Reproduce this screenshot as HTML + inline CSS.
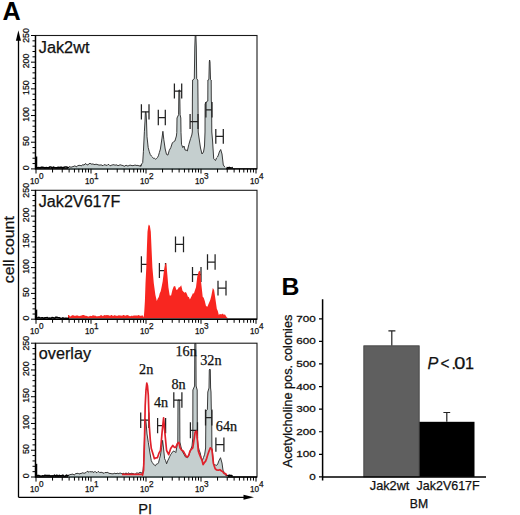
<!DOCTYPE html><html><head><meta charset="utf-8"><style>html,body{margin:0;padding:0;background:#fff;}svg{display:block;}text{font-family:"Liberation Sans",sans-serif;stroke:#111;stroke-width:0.25px;}</style></head><body>
<svg width="520" height="515" viewBox="0 0 520 515">
<rect x="0" y="0" width="520" height="515" fill="#fff"/>
<text x="2.4" y="19.6" font-size="25.2" font-weight="bold" fill="#000" style="stroke:none">A</text>
<polygon points="68,168 68,168.11 69,166.78 70,166.73 71,167.36 72,166.8 73,166.69 74,166.18 75,165.78 76,166.73 77,166.67 78,165.22 79,165.71 80,165.02 81,166.08 82,165.21 83,164.58 84,165.18 85,163.85 86,163.73 87,164.94 88,164.76 89,163.87 90,163.17 91,164 92,164.2 93,163.8 94,164.59 95,164.45 96,164.26 97,164.33 98,164.86 99,164.98 100,165.11 101,164.84 102,165.23 103,165.77 104,164.58 105,165.04 106,164.92 107,165.67 108,164.39 109,164.62 110,165.81 111,165.49 112,164.88 113,164.91 114,164.57 115,165.4 116,164.78 117,165.07 118,165.69 119,165.27 120,164.83 121,164.92 122,165.5 123,165.39 124,166.31 125,166.01 126,165.11 127,165.71 128,166.08 129,165.46 130,165.2 131,165.22 132,165.69 133,165.57 134,165.44 135,164.99 136,165.35 137,165.5 138,165.3 139,165.98 140,165.9 141,164.79 140.7,166.5 141.7,163.95 142.7,162.6 143.4,151.7 144.4,131.3 145,121 145.4,112 146,112 146.5,121 147,136.7 148.2,147.6 149.2,151.34 150.2,154.4 151.33,156.01 152.47,157.1 153.6,158.5 154.6,158.34 155.6,159.2 156.53,158.59 157.47,157.49 158.4,155.8 159.4,152.42 160.4,149 162,138.1 162.9,131.3 163.8,139.5 165.2,149 166.5,154.4 167.9,155.1 169.3,150.3 170.8,147.6 172.4,142.7 173.65,141.86 174.9,141 176.4,136 176.8,132.4 177,118 178.6,114.7 178.9,90 179.7,90 180.1,114.7 180.8,118 181,132.4 181.5,144.3 182.8,147.6 184,146 185.1,150.1 186.2,150.07 187.3,151 188.9,144.3 190.6,138.5 191.8,135 192.3,132 192.4,100 192.6,80 194.3,78.8 194.8,47 195.2,35.5 195.9,35.5 196.3,47 196.7,78.8 197.8,80 198,100 198.2,132 198.9,137 200.5,148 202,154 203.5,152 204.5,146 205,132 205.1,104 206,102.11 206.9,101.77 207.8,101 207.9,80 208.9,79.5 209.3,62 209.6,60 210,62 210.5,79.5 211.2,80 211.3,101 211.6,104 211.8,132 212.5,140 213.7,158.7 214.6,159.75 215.5,160.5 216.5,157.97 217.5,157 218.4,155.03 219.3,152 220.7,149.5 222,154 223.3,165 225,167.3 226,168" fill="#c5cfcf"/>
<polyline points="68,168.11 69,166.78 70,166.73 71,167.36 72,166.8 73,166.69 74,166.18 75,165.78 76,166.73 77,166.67 78,165.22 79,165.71 80,165.02 81,166.08 82,165.21 83,164.58 84,165.18 85,163.85 86,163.73 87,164.94 88,164.76 89,163.87 90,163.17 91,164 92,164.2 93,163.8 94,164.59 95,164.45 96,164.26 97,164.33 98,164.86 99,164.98 100,165.11 101,164.84 102,165.23 103,165.77 104,164.58 105,165.04 106,164.92 107,165.67 108,164.39 109,164.62 110,165.81 111,165.49 112,164.88 113,164.91 114,164.57 115,165.4 116,164.78 117,165.07 118,165.69 119,165.27 120,164.83 121,164.92 122,165.5 123,165.39 124,166.31 125,166.01 126,165.11 127,165.71 128,166.08 129,165.46 130,165.2 131,165.22 132,165.69 133,165.57 134,165.44 135,164.99 136,165.35 137,165.5 138,165.3 139,165.98 140,165.9 141,164.79 140.7,166.5 141.7,163.95 142.7,162.6 143.4,151.7 144.4,131.3 145,121 145.4,112 146,112 146.5,121 147,136.7 148.2,147.6 149.2,151.34 150.2,154.4 151.33,156.01 152.47,157.1 153.6,158.5 154.6,158.34 155.6,159.2 156.53,158.59 157.47,157.49 158.4,155.8 159.4,152.42 160.4,149 162,138.1 162.9,131.3 163.8,139.5 165.2,149 166.5,154.4 167.9,155.1 169.3,150.3 170.8,147.6 172.4,142.7 173.65,141.86 174.9,141 176.4,136 176.8,132.4 177,118 178.6,114.7 178.9,90 179.7,90 180.1,114.7 180.8,118 181,132.4 181.5,144.3 182.8,147.6 184,146 185.1,150.1 186.2,150.07 187.3,151 188.9,144.3 190.6,138.5 191.8,135 192.3,132 192.4,100 192.6,80 194.3,78.8 194.8,47 195.2,35.5 195.9,35.5 196.3,47 196.7,78.8 197.8,80 198,100 198.2,132 198.9,137 200.5,148 202,154 203.5,152 204.5,146 205,132 205.1,104 206,102.11 206.9,101.77 207.8,101 207.9,80 208.9,79.5 209.3,62 209.6,60 210,62 210.5,79.5 211.2,80 211.3,101 211.6,104 211.8,132 212.5,140 213.7,158.7 214.6,159.75 215.5,160.5 216.5,157.97 217.5,157 218.4,155.03 219.3,152 220.7,149.5 222,154 223.3,165 225,167.3" fill="none" stroke="#262626" stroke-width="0.9"/>
<path d="M141.4 104.3V119.5M149 104.3V119.5M141.4 111.9H149M158.3 109.8V125.3M165.3 109.8V125.3M158.3 117.55H165.3M174.4 83.6V98.4M181.7 83.6V98.4M174.4 91H181.7M190.1 114V129M198 114V129M190.1 121.5H198M205.9 101.9V117.6M212 101.9V117.6M205.9 109.75H212M215.8 129V143.8M223.3 129V143.8M215.8 136.4H223.3" fill="none" stroke="#222" stroke-width="1.25"/>
<polyline points="36.5,167.51 37.7,167.69 38.9,167.51 40.1,167.95 41.3,167.22 42.5,167.21 43.7,167.42 44.9,168.01 46.1,167.58 47.3,167.81 48.5,167.9 49.7,167.06 50.9,167 52.1,168.15 53.3,167.17 54.5,167.48 55.7,167.74 56.9,167.86 58.1,167.39 59.3,167.65 60.5,167.38 61.7,167.41 62.9,168.04 64.1,167.28 65.3,167.02 66.5,167.04 67.7,167.46 68.9,168.15" fill="none" stroke="#000" stroke-width="1.6"/>
<polyline points="226.5,167.5 227.4,167.82 228.3,168.16 229.2,167.35 230.1,167.93 231,167.87 231.9,167.68 232.8,167.37" fill="none" stroke="#000" stroke-width="1.5"/>
<line x1="36.6" y1="168.9" x2="36.6" y2="156.5" stroke="#000" stroke-width="1.3"/>
<rect x="35.5" y="35.5" width="221.5" height="133.4" fill="none" stroke="#1a1a1a" stroke-width="1.1"/>
<path d="M35.5 35.5V168.9H257" fill="none" stroke="#000" stroke-width="1.4"/>
<line x1="68" y1="168.9" x2="226" y2="168.9" stroke="#667474" stroke-width="1.4"/>
<path d="M35.5 168.9H31M35.5 163.56H32.5M35.5 158.23H32.5M35.5 152.89H32.5M35.5 147.56H32.5M35.5 142.22H31M35.5 136.88H32.5M35.5 131.55H32.5M35.5 126.21H32.5M35.5 120.88H32.5M35.5 115.54H31M35.5 110.2H32.5M35.5 104.87H32.5M35.5 99.53H32.5M35.5 94.2H32.5M35.5 88.86H31M35.5 83.52H32.5M35.5 78.19H32.5M35.5 72.85H32.5M35.5 67.52H32.5M35.5 62.18H31M35.5 56.84H32.5M35.5 51.51H32.5M35.5 46.17H32.5M35.5 40.84H32.5M35.5 35.5H31" stroke="#000" stroke-width="1"/>
<text transform="translate(28.6 167.7) rotate(-90)" font-size="8.8" text-anchor="middle" fill="#111">0</text>
<text transform="translate(28.6 141.02) rotate(-90)" font-size="8.8" text-anchor="middle" fill="#111">50</text>
<text transform="translate(28.6 114.34) rotate(-90)" font-size="8.8" text-anchor="middle" fill="#111">100</text>
<text transform="translate(28.6 87.66) rotate(-90)" font-size="8.8" text-anchor="middle" fill="#111">150</text>
<text transform="translate(28.6 60.98) rotate(-90)" font-size="8.8" text-anchor="middle" fill="#111">200</text>
<text transform="translate(28.6 35.5) rotate(-90)" font-size="8.8" text-anchor="middle" fill="#111">250</text>
<path d="M36 168.9V173.5M52.56 168.9V172.5M62.24 168.9V172.5M69.11 168.9V172.5M74.44 168.9V172.5M78.8 168.9V172.5M82.48 168.9V172.5M85.67 168.9V172.5M88.48 168.9V172.5M91 168.9V173.5M107.56 168.9V172.5M117.24 168.9V172.5M124.11 168.9V172.5M129.44 168.9V172.5M133.8 168.9V172.5M137.48 168.9V172.5M140.67 168.9V172.5M143.48 168.9V172.5M146 168.9V173.5M162.56 168.9V172.5M172.24 168.9V172.5M179.11 168.9V172.5M184.44 168.9V172.5M188.8 168.9V172.5M192.48 168.9V172.5M195.67 168.9V172.5M198.48 168.9V172.5M201 168.9V173.5M217.56 168.9V172.5M227.24 168.9V172.5M234.11 168.9V172.5M239.44 168.9V172.5M243.8 168.9V172.5M247.48 168.9V172.5M250.67 168.9V172.5M253.48 168.9V172.5M256 168.9V173.5" stroke="#000" stroke-width="1"/>
<text x="30" y="183.5" font-size="8.2" fill="#111">10<tspan dy="-4.9">0</tspan></text>
<text x="85" y="183.5" font-size="8.2" fill="#111">10<tspan dy="-4.9">1</tspan></text>
<text x="140" y="183.5" font-size="8.2" fill="#111">10<tspan dy="-4.9">2</tspan></text>
<text x="195" y="183.5" font-size="8.2" fill="#111">10<tspan dy="-4.9">3</tspan></text>
<text x="250" y="183.5" font-size="8.2" fill="#111">10<tspan dy="-4.9">4</tspan></text>
<text x="38.8" y="52.6" font-size="16" textLength="50.6" lengthAdjust="spacingAndGlyphs" fill="#111">Jak2wt</text>
<path d="M141.4 256.2V272.6M149 256.2V272.6M141.4 264.4H149M159.4 263V278M165.5 263V278M159.4 270.5H165.5M175.5 236.4V252.2M183.5 236.4V252.2M175.5 244.3H183.5M192.5 267.1V282.1M201 267.1V282.1M192.5 274.6H201M207.5 254.3V269.8M215.1 254.3V269.8M207.5 262.05H215.1M218 280.7V295.6M226 280.7V295.6M218 288.15H226" fill="none" stroke="#222" stroke-width="1.25"/>
<polygon points="68,318.3 68,314.97 69,314.98 70,316.41 71,316.36 72,315.16 73,315.32 74,315.43 75,316.01 76,315.53 77,315.53 78,315.57 79,316.25 80,315.81 81,315.87 82,315.34 83,314.91 84,314.98 85,315.63 86,315.79 87,316.07 88,316.44 89,316.46 90,315.76 91,315.99 92,315.89 93,315.07 94,315.66 95,315.6 96,316.12 97,316.46 98,315.98 99,316.28 100,315.68 101,314.9 102,315.42 103,316.21 104,315.07 105,315.23 106,315.32 107,315.05 108,315.28 109,315.24 110,315.93 111,314.93 112,314.96 113,316.24 114,315.29 115,315.36 116,315.76 117,315.65 118,315.72 119,315.02 120,315.7 121,315.17 122,315.93 123,315.09 124,315.06 125,315.76 126,315.59 127,315.03 128,315.34 129,315.72 130,316.15 131,315.98 132,315.38 133,316.23 134,315.05 135,316.07 136,315.04 137,316 138,314.97 139,315.37 140,315.69 141,315.67 142,315.46 143,315.56 143.5,317.5 143.9,315.9 144.3,311 144.9,301 145.5,283.3 146.3,267.4 146.9,247.7 147.5,231.8 148.3,226 148.9,224.6 149.9,226 150.8,231.8 151.5,247.7 152.4,267.4 153.8,283.3 155.4,295.1 156.8,301 157.8,298.58 158.8,297 159.75,293.26 160.7,291.2 161.7,286.61 162.7,281.3 164.1,269.4 165.3,264 166.3,263.1 167.4,275.2 168.4,287.3 169.7,295.4 171.1,295.4 172.4,290 173.7,286.6 175.1,286 176.4,290 177.8,289.3 178.8,287.27 179.8,287.3 181.2,285.3 182.5,290.7 183.5,291.79 184.5,292.7 185.9,292 186.9,294.03 187.9,296.7 188.9,296.99 189.9,299.4 190.9,297.42 191.9,295.4 192.9,293.29 193.9,293.4 194.95,290.19 196,287.3 197.3,276.5 198.6,271.8 199.45,270.77 200.3,271.8 201.1,281.9 202.7,296.7 203.7,297.77 204.7,300.8 206,306.1 207.4,306.8 208.4,304.27 209.4,302.1 210.4,299.53 211.4,295.4 212.8,288 214.1,290 215.5,299.4 216.8,308.8 217.8,310.95 218.8,314.9 219.85,313.89 220.9,314.2 221.9,314.16 222.9,313.5 223.9,314.92 224.9,314.2 225.9,316.09 226.9,317.6 228.3,318.3 229,318.3" fill="#f82620"/>
<polyline points="36.5,317.96 37.7,317.83 38.9,317.39 40.1,317.94 41.3,317.89 42.5,317.8 43.7,318.28 44.9,317.89 46.1,317.74 47.3,317.55 48.5,318.39 49.7,318.14 50.9,318.39 52.1,317.53 53.3,317.67 54.5,318.45 55.7,317.32 56.9,317.34 58.1,317.72 59.3,317.76 60.5,318.31 61.7,318.48 62.9,317.87 64.1,318.43 65.3,318.27 66.5,318.21 67.7,318.46 68.9,317.94" fill="none" stroke="#000" stroke-width="1.6"/>
<line x1="36.6" y1="319.2" x2="36.6" y2="309.6" stroke="#000" stroke-width="1.3"/>
<rect x="35.5" y="190.3" width="221.5" height="128.9" fill="none" stroke="#1a1a1a" stroke-width="1.1"/>
<path d="M35.5 190.3V319.2H257" fill="none" stroke="#000" stroke-width="1.4"/>
<path d="M35.5 319.2H31M35.5 314.04H32.5M35.5 308.89H32.5M35.5 303.73H32.5M35.5 298.58H32.5M35.5 293.42H31M35.5 288.26H32.5M35.5 283.11H32.5M35.5 277.95H32.5M35.5 272.8H32.5M35.5 267.64H31M35.5 262.48H32.5M35.5 257.33H32.5M35.5 252.17H32.5M35.5 247.02H32.5M35.5 241.86H31M35.5 236.7H32.5M35.5 231.55H32.5M35.5 226.39H32.5M35.5 221.24H32.5M35.5 216.08H31M35.5 210.92H32.5M35.5 205.77H32.5M35.5 200.61H32.5M35.5 195.46H32.5M35.5 190.3H31" stroke="#000" stroke-width="1"/>
<text transform="translate(28.6 318) rotate(-90)" font-size="8.8" text-anchor="middle" fill="#111">0</text>
<text transform="translate(28.6 292.22) rotate(-90)" font-size="8.8" text-anchor="middle" fill="#111">50</text>
<text transform="translate(28.6 266.44) rotate(-90)" font-size="8.8" text-anchor="middle" fill="#111">100</text>
<text transform="translate(28.6 240.66) rotate(-90)" font-size="8.8" text-anchor="middle" fill="#111">150</text>
<text transform="translate(28.6 214.88) rotate(-90)" font-size="8.8" text-anchor="middle" fill="#111">200</text>
<text transform="translate(28.6 190.3) rotate(-90)" font-size="8.8" text-anchor="middle" fill="#111">250</text>
<path d="M36 319.2V323.8M52.56 319.2V322.8M62.24 319.2V322.8M69.11 319.2V322.8M74.44 319.2V322.8M78.8 319.2V322.8M82.48 319.2V322.8M85.67 319.2V322.8M88.48 319.2V322.8M91 319.2V323.8M107.56 319.2V322.8M117.24 319.2V322.8M124.11 319.2V322.8M129.44 319.2V322.8M133.8 319.2V322.8M137.48 319.2V322.8M140.67 319.2V322.8M143.48 319.2V322.8M146 319.2V323.8M162.56 319.2V322.8M172.24 319.2V322.8M179.11 319.2V322.8M184.44 319.2V322.8M188.8 319.2V322.8M192.48 319.2V322.8M195.67 319.2V322.8M198.48 319.2V322.8M201 319.2V323.8M217.56 319.2V322.8M227.24 319.2V322.8M234.11 319.2V322.8M239.44 319.2V322.8M243.8 319.2V322.8M247.48 319.2V322.8M250.67 319.2V322.8M253.48 319.2V322.8M256 319.2V323.8" stroke="#000" stroke-width="1"/>
<text x="30" y="333.8" font-size="8.2" fill="#111">10<tspan dy="-4.9">0</tspan></text>
<text x="85" y="333.8" font-size="8.2" fill="#111">10<tspan dy="-4.9">1</tspan></text>
<text x="140" y="333.8" font-size="8.2" fill="#111">10<tspan dy="-4.9">2</tspan></text>
<text x="195" y="333.8" font-size="8.2" fill="#111">10<tspan dy="-4.9">3</tspan></text>
<text x="250" y="333.8" font-size="8.2" fill="#111">10<tspan dy="-4.9">4</tspan></text>
<text x="38.8" y="207.3" font-size="16" textLength="81.6" lengthAdjust="spacingAndGlyphs" fill="#111">Jak2V617F</text>
<polygon points="68,476.1 68,475.39 69,475.01 70,474.73 71,474.3 72,474.43 73,473.94 74,475.18 75,474.29 76,473.35 77,473.65 78,473.08 79,474.17 80,473.43 81,473.62 82,472.97 83,472.72 84,473.42 85,472.9 86,472.6 87,471.38 88,471.42 89,472.33 90,471.24 91,472.22 92,471.39 93,472.11 94,472.48 95,471.26 96,472.48 97,472.65 98,471.54 99,471.84 100,472.89 101,471.94 102,472.73 103,472.63 104,473.51 105,472.35 106,472.77 107,472.34 108,472.47 109,473.44 110,473.35 111,473.68 112,473.73 113,473.87 114,473.51 115,473.05 116,474.04 117,472.99 118,473.57 119,473.65 120,472.87 121,473.44 122,473.74 123,473.51 124,473.19 125,474.26 126,472.77 127,474.28 128,473.1 129,472.93 130,474.24 131,472.99 132,473.65 133,473.29 134,474.18 135,474.11 136,473.84 137,472.55 138,473.72 139,472.78 140,472.45 141,472.38 142,473.29 142.5,475 143.6,465 144.4,440 145,421 145.6,419 146.2,424 147,434 148.3,442.3 149.8,452 151.3,460.7 152.33,462.65 153.35,463.97 154.38,465.15 155.4,465.8 156.43,464.13 157.47,463.95 158.5,462.8 159.5,458.78 160.5,455 161.55,447.7 162.6,440.3 163.5,448 164.6,458.7 165.6,460.66 166.6,463.8 167.63,460.91 168.67,458.91 169.7,456.6 170.73,454.45 171.77,453.13 172.8,451.5 173.8,451.11 174.8,451.57 175.8,452.6 177.2,445 177.8,442 178,400 179.7,400 179.9,442 181,447 182.1,450.34 183.2,453 184.35,454.87 185.5,457 186.5,457.37 187.5,457.7 188.45,456.12 189.4,453.8 190.7,449.67 192,446 192.8,438 192.9,390 194.6,386 194.8,343.5 195.9,343.5 196.1,386 197.2,390 197.3,438 198.2,446 199.1,450 200.17,452.83 201.23,457.52 202.3,460.6 203.5,457.54 204.7,454.2 205.6,448 205.9,411 207.4,409.5 207.8,392 209,388 209.3,370 209.9,369 210.3,370 210.6,388 211,392 211.3,409.5 211.7,411 211.9,448 212.5,452 213.5,463.8 214.57,464.59 215.63,465.06 216.7,465.4 217.75,463.95 218.8,461 220.5,457.7 222,463 223,470.2 224.25,472.53 225.5,475.3 227,476 228,476.1" fill="#c5cfcf"/>
<polyline points="68,475.39 69,475.01 70,474.73 71,474.3 72,474.43 73,473.94 74,475.18 75,474.29 76,473.35 77,473.65 78,473.08 79,474.17 80,473.43 81,473.62 82,472.97 83,472.72 84,473.42 85,472.9 86,472.6 87,471.38 88,471.42 89,472.33 90,471.24 91,472.22 92,471.39 93,472.11 94,472.48 95,471.26 96,472.48 97,472.65 98,471.54 99,471.84 100,472.89 101,471.94 102,472.73 103,472.63 104,473.51 105,472.35 106,472.77 107,472.34 108,472.47 109,473.44 110,473.35 111,473.68 112,473.73 113,473.87 114,473.51 115,473.05 116,474.04 117,472.99 118,473.57 119,473.65 120,472.87 121,473.44 122,473.74 123,473.51 124,473.19 125,474.26 126,472.77 127,474.28 128,473.1 129,472.93 130,474.24 131,472.99 132,473.65 133,473.29 134,474.18 135,474.11 136,473.84 137,472.55 138,473.72 139,472.78 140,472.45 141,472.38 142,473.29 142.5,475 143.6,465 144.4,440 145,421 145.6,419 146.2,424 147,434 148.3,442.3 149.8,452 151.3,460.7 152.33,462.65 153.35,463.97 154.38,465.15 155.4,465.8 156.43,464.13 157.47,463.95 158.5,462.8 159.5,458.78 160.5,455 161.55,447.7 162.6,440.3 163.5,448 164.6,458.7 165.6,460.66 166.6,463.8 167.63,460.91 168.67,458.91 169.7,456.6 170.73,454.45 171.77,453.13 172.8,451.5 173.8,451.11 174.8,451.57 175.8,452.6 177.2,445 177.8,442 178,400 179.7,400 179.9,442 181,447 182.1,450.34 183.2,453 184.35,454.87 185.5,457 186.5,457.37 187.5,457.7 188.45,456.12 189.4,453.8 190.7,449.67 192,446 192.8,438 192.9,390 194.6,386 194.8,343.5 195.9,343.5 196.1,386 197.2,390 197.3,438 198.2,446 199.1,450 200.17,452.83 201.23,457.52 202.3,460.6 203.5,457.54 204.7,454.2 205.6,448 205.9,411 207.4,409.5 207.8,392 209,388 209.3,370 209.9,369 210.3,370 210.6,388 211,392 211.3,409.5 211.7,411 211.9,448 212.5,452 213.5,463.8 214.57,464.59 215.63,465.06 216.7,465.4 217.75,463.95 218.8,461 220.5,457.7 222,463 223,470.2 224.25,472.53 225.5,475.3 227,476" fill="none" stroke="#262626" stroke-width="0.9"/>
<path d="M140.7 412.4V428M148.8 412.4V428M140.7 420.2H148.8M157.6 417.9V433.2M165.6 417.9V433.2M157.6 425.55H165.6M173.8 392.3V407.7M181.9 392.3V407.7M173.8 400H181.9M190.4 422.3V438.3M197.5 422.3V438.3M190.4 430.3H197.5M205.5 409.6V425.5M211.9 409.6V425.5M205.5 417.55H211.9M215.9 437.5V451.8M223.9 437.5V451.8M215.9 444.65H223.9" fill="none" stroke="#222" stroke-width="1.25"/>
<polyline points="122,474.3 124,474.3 126,474.3 128,474.3 130,474.3 132,474.3 134,474.3 136,474.3 138,474.3 140,474.3 142,474.3 142.5,475.2 143.6,470 144.5,440 145.2,405.6 146,390 146.8,383.2 147.5,386 148.3,395.4 149.3,426 150.3,440 151.3,448.5 152.85,453.5 154.4,458.7 155.9,457.87 157.4,457.7 158.95,453.16 160.5,450.5 162.1,432.1 163.6,417.9 165.2,436.2 166.6,450.5 168.7,454.6 170.7,448.5 172.8,445.4 174.3,447.35 175.8,447.4 177.35,443.57 178.9,442.3 180,447.8 181.9,450.5 183.2,451 184.8,453.81 186.4,456.6 187.6,456.84 188.8,455 190,451.11 191.2,449.4 192.8,447.8 194,439.99 195.2,431.9 196.7,431.1 198.3,451 199.5,454.5 200.7,457.4 201.9,459.81 203.1,464.6 204.3,462.69 205.5,461.4 206.7,458.33 207.9,454.2 209.1,450.88 210.3,447.8 211.9,449.4 213.5,463.8 215.1,468.6 216.7,469.99 218.3,470.2 219.9,469.71 221.5,471 222.7,471.52 223.9,473.4 225.45,473.59 227,475.8 228.5,476.02 230,476.2" fill="none" stroke="#e0202a" stroke-width="1.7" stroke-linejoin="round"/>
<polyline points="36.5,475.73 37.7,475.51 38.9,475.5 40.1,476.13 41.3,476.29 42.5,475.85 43.7,475.97 44.9,475.33 46.1,475.47 47.3,475.58 48.5,475.63 49.7,475.51 50.9,476.13 52.1,475.77 53.3,476.11 54.5,475.21 55.7,476.23 56.9,475.32 58.1,476.21 59.3,475.48 60.5,475.9 61.7,475.81 62.9,475.29 64.1,476.28 65.3,476.23 66.5,475.2 67.7,475.69 68.9,476.19" fill="none" stroke="#000" stroke-width="1.6"/>
<polyline points="226.5,476.2 227.4,476.02 228.3,475.91 229.2,475.13 230.1,475.65 231,475.36 231.9,476.17 232.8,475.64" fill="none" stroke="#000" stroke-width="1.5"/>
<line x1="36.6" y1="477" x2="36.6" y2="463.8" stroke="#000" stroke-width="1.3"/>
<rect x="35.5" y="343.2" width="221.5" height="133.8" fill="none" stroke="#1a1a1a" stroke-width="1.1"/>
<path d="M35.5 343.2V477H257" fill="none" stroke="#000" stroke-width="1.4"/>
<line x1="68" y1="477" x2="228" y2="477" stroke="#667474" stroke-width="1.4"/>
<path d="M35.5 477H31M35.5 471.65H32.5M35.5 466.3H32.5M35.5 460.94H32.5M35.5 455.59H32.5M35.5 450.24H31M35.5 444.89H32.5M35.5 439.54H32.5M35.5 434.18H32.5M35.5 428.83H32.5M35.5 423.48H31M35.5 418.13H32.5M35.5 412.78H32.5M35.5 407.42H32.5M35.5 402.07H32.5M35.5 396.72H31M35.5 391.37H32.5M35.5 386.02H32.5M35.5 380.66H32.5M35.5 375.31H32.5M35.5 369.96H31M35.5 364.61H32.5M35.5 359.26H32.5M35.5 353.9H32.5M35.5 348.55H32.5M35.5 343.2H31" stroke="#000" stroke-width="1"/>
<text transform="translate(28.6 475.8) rotate(-90)" font-size="8.8" text-anchor="middle" fill="#111">0</text>
<text transform="translate(28.6 449.04) rotate(-90)" font-size="8.8" text-anchor="middle" fill="#111">50</text>
<text transform="translate(28.6 422.28) rotate(-90)" font-size="8.8" text-anchor="middle" fill="#111">100</text>
<text transform="translate(28.6 395.52) rotate(-90)" font-size="8.8" text-anchor="middle" fill="#111">150</text>
<text transform="translate(28.6 368.76) rotate(-90)" font-size="8.8" text-anchor="middle" fill="#111">200</text>
<text transform="translate(28.6 343.2) rotate(-90)" font-size="8.8" text-anchor="middle" fill="#111">250</text>
<path d="M36 477V481.6M52.56 477V480.6M62.24 477V480.6M69.11 477V480.6M74.44 477V480.6M78.8 477V480.6M82.48 477V480.6M85.67 477V480.6M88.48 477V480.6M91 477V481.6M107.56 477V480.6M117.24 477V480.6M124.11 477V480.6M129.44 477V480.6M133.8 477V480.6M137.48 477V480.6M140.67 477V480.6M143.48 477V480.6M146 477V481.6M162.56 477V480.6M172.24 477V480.6M179.11 477V480.6M184.44 477V480.6M188.8 477V480.6M192.48 477V480.6M195.67 477V480.6M198.48 477V480.6M201 477V481.6M217.56 477V480.6M227.24 477V480.6M234.11 477V480.6M239.44 477V480.6M243.8 477V480.6M247.48 477V480.6M250.67 477V480.6M253.48 477V480.6M256 477V481.6" stroke="#000" stroke-width="1"/>
<text x="30" y="491.6" font-size="8.2" fill="#111">10<tspan dy="-4.9">0</tspan></text>
<text x="85" y="491.6" font-size="8.2" fill="#111">10<tspan dy="-4.9">1</tspan></text>
<text x="140" y="491.6" font-size="8.2" fill="#111">10<tspan dy="-4.9">2</tspan></text>
<text x="195" y="491.6" font-size="8.2" fill="#111">10<tspan dy="-4.9">3</tspan></text>
<text x="250" y="491.6" font-size="8.2" fill="#111">10<tspan dy="-4.9">4</tspan></text>
<text x="38.8" y="358.8" font-size="16" textLength="52.2" lengthAdjust="spacingAndGlyphs" fill="#111">overlay</text>
<text x="139.1" y="374.4" font-size="14.2" style="font-family:'Liberation Serif',serif" fill="#111">2n</text>
<text x="154" y="407.1" font-size="14.2" style="font-family:'Liberation Serif',serif" fill="#111">4n</text>
<text x="171.5" y="388.5" font-size="14.2" style="font-family:'Liberation Serif',serif" fill="#111">8n</text>
<text x="175.5" y="356.2" font-size="14.2" style="font-family:'Liberation Serif',serif" fill="#111">16n</text>
<text x="200.2" y="364.8" font-size="14.2" style="font-family:'Liberation Serif',serif" fill="#111">32n</text>
<text x="215.8" y="430.8" font-size="14.2" style="font-family:'Liberation Serif',serif" fill="#111">64n</text>
<path d="M18.5 497.3V38 M18.5 497.3H246" fill="none" stroke="#000" stroke-width="1.3"/>
<path d="M18.4 30.3L15.9 40.8H20.9Z" fill="#000"/>
<path d="M254 497.3L243.5 494.8V499.8Z" fill="#000"/>
<text x="138.2" y="513.5" font-size="14.6" fill="#111">PI</text>
<text transform="translate(14.1 283.2) rotate(-90)" font-size="15" textLength="67" lengthAdjust="spacingAndGlyphs" fill="#111">cell count</text>
<text x="281.4" y="295.2" font-size="24.8" font-weight="bold" fill="#000" style="stroke:none">B</text>
<rect x="363.8" y="345.8" width="55.4" height="131.1" fill="#5f5f5f" stroke="#3a3a3a" stroke-width="0.8"/>
<rect x="419.4" y="421.8" width="55.1" height="55.1" fill="#000"/>
<path d="M391.8 345.4V330.8M388.4 330.8H395.4M446.8 421.8V412.5M443.4 412.5H450.2" stroke="#222" stroke-width="1.2"/>
<path d="M322.6 299.2V480.5M321.9 476.9H486" fill="none" stroke="#000" stroke-width="1.5"/>
<path d="M319 476.9H322.6M319 454.31H322.6M319 431.73H322.6M319 409.14H322.6M319 386.56H322.6M319 363.97H322.6M319 341.39H322.6M319 318.8H322.6" stroke="#000" stroke-width="1.2"/>
<text x="315.8" y="479.9" font-size="8.6" text-anchor="end" fill="#111" transform="translate(315.8 0) scale(1.36 1) translate(-315.8 0)">0</text>
<text x="315.8" y="457.31" font-size="8.6" text-anchor="end" fill="#111" transform="translate(315.8 0) scale(1.36 1) translate(-315.8 0)">100</text>
<text x="315.8" y="434.73" font-size="8.6" text-anchor="end" fill="#111" transform="translate(315.8 0) scale(1.36 1) translate(-315.8 0)">200</text>
<text x="315.8" y="412.14" font-size="8.6" text-anchor="end" fill="#111" transform="translate(315.8 0) scale(1.36 1) translate(-315.8 0)">300</text>
<text x="315.8" y="389.56" font-size="8.6" text-anchor="end" fill="#111" transform="translate(315.8 0) scale(1.36 1) translate(-315.8 0)">400</text>
<text x="315.8" y="366.97" font-size="8.6" text-anchor="end" fill="#111" transform="translate(315.8 0) scale(1.36 1) translate(-315.8 0)">500</text>
<text x="315.8" y="344.39" font-size="8.6" text-anchor="end" fill="#111" transform="translate(315.8 0) scale(1.36 1) translate(-315.8 0)">600</text>
<text x="315.8" y="321.8" font-size="8.6" text-anchor="end" fill="#111" transform="translate(315.8 0) scale(1.36 1) translate(-315.8 0)">700</text>
<text transform="translate(291.8 467.6) rotate(-90)" font-size="12.8" textLength="153" lengthAdjust="spacingAndGlyphs" fill="#111">Acetylcholine pos. colonies</text>
<text x="369.8" y="490.3" font-size="12.2" textLength="39.6" lengthAdjust="spacingAndGlyphs" fill="#111">Jak2wt</text>
<text x="416.6" y="490.3" font-size="12.2" textLength="63" lengthAdjust="spacingAndGlyphs" fill="#111">Jak2V617F</text>
<text x="409.8" y="507.9" font-size="12.2" fill="#111">BM</text>
<text x="427.4" y="368.7" font-size="16.2" font-style="italic" fill="#111">P</text>
<text x="440.4" y="368.7" font-size="16.2" textLength="9" lengthAdjust="spacingAndGlyphs" fill="#111">&lt;</text>
<text x="451.6" y="368.7" font-size="16.2" fill="#111">.</text>
<text x="454.3" y="368.7" font-size="16.2" textLength="11.1" lengthAdjust="spacingAndGlyphs" fill="#111">0</text>
<text x="464.9" y="368.7" font-size="16.2" fill="#111">1</text>
</svg></body></html>
